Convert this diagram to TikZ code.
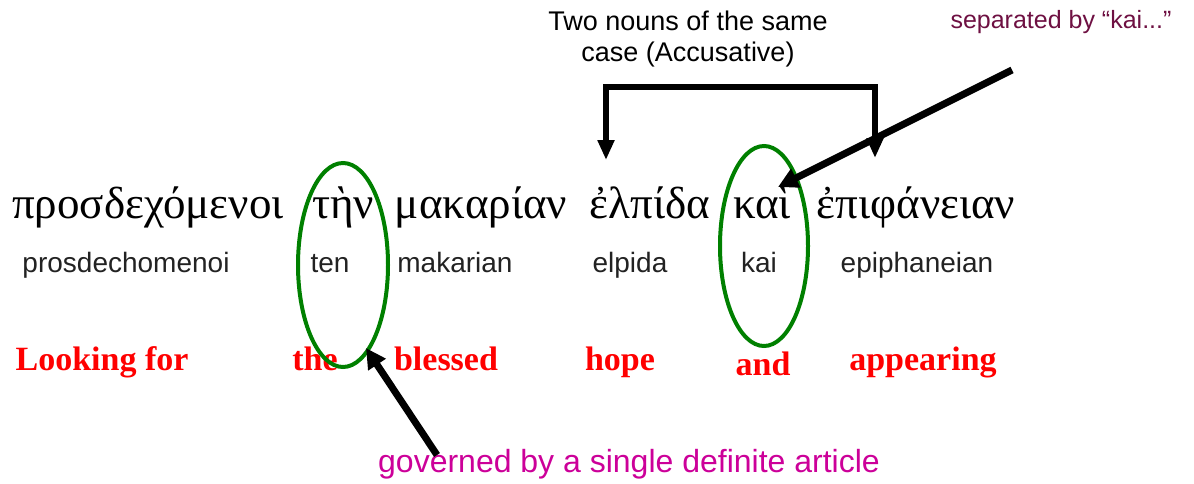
\documentclass[tikz,border=0pt]{standalone}
\usepackage{fontspec}
\setmainfont{Liberation Serif}
\setsansfont{Liberation Sans}
\newfontfamily\grk{Liberation Serif}
\usetikzlibrary{arrows.meta}
\definecolor{grn}{RGB}{0,128,0}
\definecolor{engred}{RGB}{255,0,0}
\definecolor{maroon}{RGB}{110,16,66}
\definecolor{mag}{RGB}{204,0,153}
\definecolor{trn}{RGB}{34,34,34}
\tikzset{
  greek/.style={anchor=base,inner sep=0pt,font=\grk\fontsize{45}{50}\selectfont},
  translit/.style={anchor=base,inner sep=0pt,text=trn,font=\sffamily\fontsize{28}{32}\selectfont},
  english/.style={anchor=base,inner sep=0pt,text=engred,font=\rmfamily\bfseries\fontsize{34}{38}\selectfont},
  note/.style={inner sep=0pt,font=\sffamily\fontsize{27}{31}\selectfont},
  ring/.style={draw=grn,line width=4pt},
  bigarrow/.style={draw=black,line width=7pt,-{Triangle[width=20pt,length=20pt]}},
  brk/.style={draw=black,line width=6pt,line join=miter,{Triangle[width=16pt,length=20pt]}-{Triangle[width=16pt,length=20pt]}},
}
\begin{document}
\begin{tikzpicture}[x=1pt,y=-1pt]
\useasboundingbox (0,0) rectangle (1194,483);
% Greek
\node[greek] (g1) at (148,218) {προσδεχόμενοι};
\node[greek] (g2) at (343,218) {τὴν};
\node[greek] (g3) at (481,218) {μακαρίαν};
\node[greek] (g4) at (650,218) {ἐλπίδα};
\node[greek] (g5) at (762,218) {καὶ};
\node[greek] (g6) at (916,218) {ἐπιφάνειαν};
% transliteration
\node[translit] (t1) at (126,272) {prosdechomenoi};
\node[translit] (t2) at (330,272) {ten};
\node[translit] (t3) at (455,272) {makarian};
\node[translit] (t4) at (630,272) {elpida};
\node[translit] (t5) at (759,272) {kai};
\node[translit] (t6) at (917,272) {epiphaneian};
% English
\node[english] (e1) at (102,370) {Looking for};
\node[english] (e2) at (315,370) {the};
\node[english] (e3) at (446,370) {blessed};
\node[english] (e4) at (620,370) {hope};
\node[english] (e5) at (763,375) {and};
\node[english] (e6) at (923,370) {appearing};
% ellipses
\draw[ring] (343,265) ellipse [x radius=45, y radius=102];
\draw[ring] (764,246) ellipse [x radius=44, y radius=100];
% notes
\node[note,align=center] (top) at (688,39) {Two nouns of the same\\case (Accusative)};
\node[note,text=maroon,anchor=base,font=\sffamily\fontsize{25}{29}\selectfont] (sep) at (1061,28) {separated by “kai...”};
\node[note,text=mag,anchor=base,font=\sffamily\fontsize{32}{36}\selectfont] (gov) at (629,472) {governed by a single definite article};
% bracket
\coordinate (bl) at (606,87);
\coordinate (br) at (875,87);
\coordinate (tl) at (606,160);
\coordinate (tr) at (875,158);
\draw[brk] (tl) -- (bl) -- (br) -- (tr);
% arrows
\coordinate (sepstart) at (1012,70);
\coordinate (kaitip) at (778,187);
\draw[bigarrow] (sepstart) -- (kaitip);
\coordinate (govstart) at (437,455);
\coordinate (thetip) at (366,348);
\draw[bigarrow] (govstart) -- (thetip);
\end{tikzpicture}
\end{document}
